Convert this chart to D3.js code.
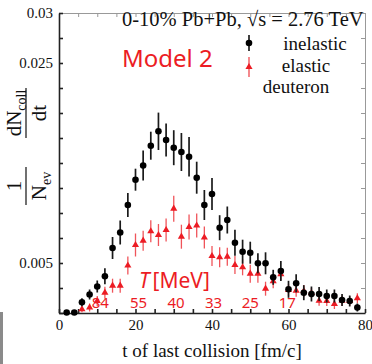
<!DOCTYPE html>
<html>
<head>
<meta charset="utf-8">
<script src="https://cdn.jsdelivr.net/npm/d3@7"></script>
<style>
body { margin: 0; background: #fff; }
</style>
</head>
<body>
<div id="chart"></div>
<script>
// bin centres, t of last collision [fm/c]
const timeBins = [2, 4, 6, 8, 10, 12, 14, 16, 18, 20, 22, 24, 26, 28, 30, 32, 34, 36, 38, 40,
	42, 44, 46, 48, 50, 52, 54, 56, 58, 60, 62, 64, 66, 68, 70, 72, 74, 76, 78];

const inelasticValues = [0.00005, 0.00005, 0.00107, 0.00185, 0.00265, 0.00367, 0.0065, 0.00805, 0.0108, 0.01333,
	0.01475, 0.01673, 0.01817, 0.0173, 0.01653, 0.0161, 0.01563, 0.01353, 0.0108, 0.0119,
	0.00853, 0.0093, 0.00703, 0.00613, 0.00603, 0.00497, 0.00497, 0.00357, 0.0042, 0.00237,
	0.00297, 0.00203, 0.0019, 0.0019, 0.0017, 0.0017, 0.0013, 0.0012, 0.00055];
const inelasticErrors = [0, 0, 0.0004, 0.0005, 0.0006, 0.0008, 0.0011, 0.0012, 0.0012, 0.0011,
	0.0015, 0.0014, 0.00187, 0.00165, 0.00175, 0.0019, 0.00197, 0.0016, 0.0015, 0.0016,
	0.00125, 0.00135, 0.0013, 0.0012, 0.0011, 0.001, 0.0011, 0.00075, 0.001, 0.00085,
	0.0009, 0.00075, 0.00075, 0.0007, 0.00065, 0.00065, 0.0006, 0.00055, 0.0004];

const elasticValues = [null, null, 0.00037, 0.00055, 0.0012, 0.00203, 0.00273, 0.00273, 0.00475, 0.0068,
	0.00723, 0.00817, 0.0078, 0.0083, 0.01043, 0.00763, 0.0086, 0.00875, 0.00755, 0.0057,
	0.00557, 0.00563, 0.0048, 0.00457, 0.00393, 0.00393, 0.00243, 0.00317, 0.00387, 0.0023,
	0.00223, 0.0022, 0.002, 0.00123, 0.0012, 0.0009, 0.00123, 0.0012, 0.00147];
const elasticErrors = [null, null, 0.0003, 0.0004, 0.0005, 0.0006, 0.0007, 0.0007, 0.0009, 0.00115,
	0.001, 0.0011, 0.0011, 0.00115, 0.0013, 0.0012, 0.00125, 0.0012, 0.0011, 0.001,
	0.001, 0.0009, 0.0009, 0.0008, 0.0009, 0.0009, 0.0007, 0.0007, 0.0006, 0.0006,
	0.0006, 0.0006, 0.0005, 0.0005, 0.0005, 0.0005, 0.0005, 0.0005, 0.0005];

// temperature annotations along the time axis
const temperatureTimes = [10.8, 20.8, 30.6, 40.4, 50, 59.7];
const temperatureLabels = ['84', '55', '40', '33', '25', '17'];

const yTicks = d3.range(13).map((i) => i * 0.0025);
const yTickLabels = ['', '', '0.005', '', '', '', '', '', '', '', '0.025', '', '0.03'];
const xTicks = d3.range(0, 81, 5);
const xTickLabels = ['0', '20', '40', '60', '80'];

const red = '#ec1c24';
const serif = '"Liberation Serif", "Times New Roman", serif';
const sans = '"Noto Sans", "Liberation Sans", Arial, sans-serif';

const svg = d3.select('#chart').append('svg')
		.attr('width', 372)
		.attr('height', 364);

const x = d3.scaleLinear().domain([0, 80]).range([59, 365]);
const y = d3.scaleLinear().domain([0, 0.03]).range([313, 13]);

// stray scan border at the bottom left
svg.append('rect')
		.attr('x', 0).attr('y', 312)
		.attr('width', 3).attr('height', 52)
		.style('fill', '#8a8a8a');

// frame: top and right (light), bottom and left (dark)
svg.append('g')
		.attr('transform', `translate(0, ${y(0.03)})`)
		.call(d3.axisTop(x).tickValues(xTicks).tickSizeInner(-4).tickSizeOuter(0).tickFormat(''))
		.call((g) => g.selectAll('line, path').style('stroke', '#999').style('stroke-width', 1));

svg.append('g')
		.attr('transform', `translate(${x(80)}, 0)`)
		.call(d3.axisRight(y).tickValues(yTicks).tickSizeInner(-4).tickSizeOuter(0).tickFormat(''))
		.call((g) => g.selectAll('line, path').style('stroke', '#999').style('stroke-width', 1));

svg.append('g')
		.attr('transform', `translate(0, ${y(0)})`)
		.call(d3.axisBottom(x).tickValues(xTicks).tickSizeInner(-4).tickSizeOuter(0).tickPadding(6)
			.tickFormat((d) => (d % 20 === 0 ? xTickLabels[d / 20] : '')))
		.call((g) => g.selectAll('line, path').style('stroke', '#222').style('stroke-width', 1.6))
		.call((g) => g.selectAll('text').style('font-family', serif).style('font-size', '15px').style('fill', '#111'));

svg.append('g')
		.attr('transform', `translate(${x(0)}, 0)`)
		.call(d3.axisLeft(y).tickValues(yTicks).tickSizeInner(-4).tickSizeOuter(0).tickPadding(6)
			.tickFormat((d, i) => yTickLabels[i]))
		.call((g) => g.selectAll('line, path').style('stroke', '#222').style('stroke-width', 1.6))
		.call((g) => g.selectAll('text').style('font-family', serif).style('font-size', '15px').style('fill', '#111'));

// axis titles
svg.append('text')
		.attr('x', 212)
		.attr('y', 357)
		.style('text-anchor', 'middle')
		.style('font-family', serif)
		.style('font-size', '19px')
		.style('fill', '#111')
		.text('t of last collision [fm/c]');

const yTitle = svg.append('g')
		.attr('transform', 'translate(26, 0) rotate(-90)')
		.style('font-family', serif)
		.style('fill', '#111');

function fraction(cx, num, numSub, den, denSub, barHalf) {
	const n = yTitle.append('text').attr('x', -cx).attr('y', -5)
			.style('text-anchor', 'middle').style('font-size', '21px');
	n.append('tspan').text(num);
	if (numSub) n.append('tspan').attr('dy', 5).style('font-size', '14px').text(numSub);
	yTitle.append('line')
			.attr('x1', -cx - barHalf).attr('x2', -cx + barHalf)
			.attr('y1', 0).attr('y2', 0)
			.style('stroke', '#111').style('stroke-width', 1.2);
	const d = yTitle.append('text').attr('x', -cx).attr('y', 20)
			.style('text-anchor', 'middle').style('font-size', '21px');
	d.append('tspan').text(den);
	if (denSub) d.append('tspan').attr('dy', 5).style('font-size', '14px').text(denSub);
}
fraction(186, '1', null, 'N', 'ev', 19);
fraction(113, 'dN', 'coll', 'dt', null, 25);

// header and annotations
svg.append('text')
		.attr('x', 122)
		.attr('y', 26)
		.style('font-family', serif)
		.style('font-size', '20.5px')
		.style('fill', '#111')
		.text('0-10% Pb+Pb, \u221As = 2.76 TeV');

svg.append('text')
		.attr('x', 122)
		.attr('y', 67)
		.style('font-family', sans)
		.style('font-size', '24px')
		.style('fill', red)
		.text('Model 2');

const tLabel = svg.append('text')
		.attr('x', 139)
		.attr('y', 288)
		.style('font-family', sans)
		.style('font-size', '21px')
		.style('fill', red);
tLabel.append('tspan').style('font-style', 'italic').text('T');
tLabel.append('tspan').attr('dx', 3).text('[MeV]');

svg.append('g').selectAll('text')
		.data(temperatureLabels)
		.join('text')
			.attr('x', (d, i) => x(temperatureTimes[i]))
			.attr('y', 308)
			.style('text-anchor', 'middle')
			.style('font-family', sans)
			.style('font-size', '15px')
			.style('fill', red)
			.text((d) => d);

// legend
const legend = svg.append('g');
legend.append('line').attr('x1', 249).attr('x2', 249).attr('y1', 35).attr('y2', 51)
		.style('stroke', '#111').style('stroke-width', 1.6);
legend.append('circle').attr('cx', 249).attr('cy', 43).attr('r', 3.3).style('fill', '#000');
legend.append('line').attr('x1', 249).attr('x2', 249).attr('y1', 57).attr('y2', 77)
		.style('stroke', red).style('stroke-width', 1.3).style('opacity', 0.8);
legend.append('path').attr('transform', 'translate(249, 67)')
		.attr('d', d3.symbol(d3.symbolTriangle, 22)).style('fill', red);
legend.selectAll('text')
		.data([['inelastic', 315, 50], ['elastic', 306, 72], ['deuteron', 296, 93]])
		.join('text')
			.attr('x', (d) => d[1])
			.attr('y', (d) => d[2])
			.style('text-anchor', 'middle')
			.style('font-family', serif)
			.style('font-size', '19px')
			.style('fill', '#111')
			.text((d) => d[0]);

// elastic (red triangles)
const elastic = timeBins.map((t, i) => ({t, v: elasticValues[i], e: elasticErrors[i]})).filter((d) => d.v !== null);
const inelastic = timeBins.map((t, i) => ({t, v: inelasticValues[i], e: inelasticErrors[i]}));

svg.append('g').selectAll('line')
		.data(elastic)
		.join('line')
			.attr('x1', (d) => x(d.t)).attr('x2', (d) => x(d.t))
			.attr('y1', (d) => y(d.v - d.e)).attr('y2', (d) => y(d.v + d.e))
			.style('stroke', red).style('stroke-width', 1.3).style('opacity', 0.75);

svg.append('g').selectAll('path')
		.data(elastic)
		.join('path')
			.attr('transform', (d) => `translate(${x(d.t)}, ${y(d.v)})`)
			.attr('d', d3.symbol(d3.symbolTriangle, 22))
			.style('fill', red);

// inelastic (black circles)
svg.append('g').selectAll('line')
		.data(inelastic)
		.join('line')
			.attr('x1', (d) => x(d.t)).attr('x2', (d) => x(d.t))
			.attr('y1', (d) => y(d.v - d.e)).attr('y2', (d) => y(d.v + d.e))
			.style('stroke', '#1a1a1a').style('stroke-width', 1.7);

svg.append('g').selectAll('circle')
		.data(inelastic)
		.join('circle')
			.attr('cx', (d) => x(d.t))
			.attr('cy', (d) => y(d.v))
			.attr('r', 3.3)
			.style('fill', '#000');
</script>
</body>
</html>
